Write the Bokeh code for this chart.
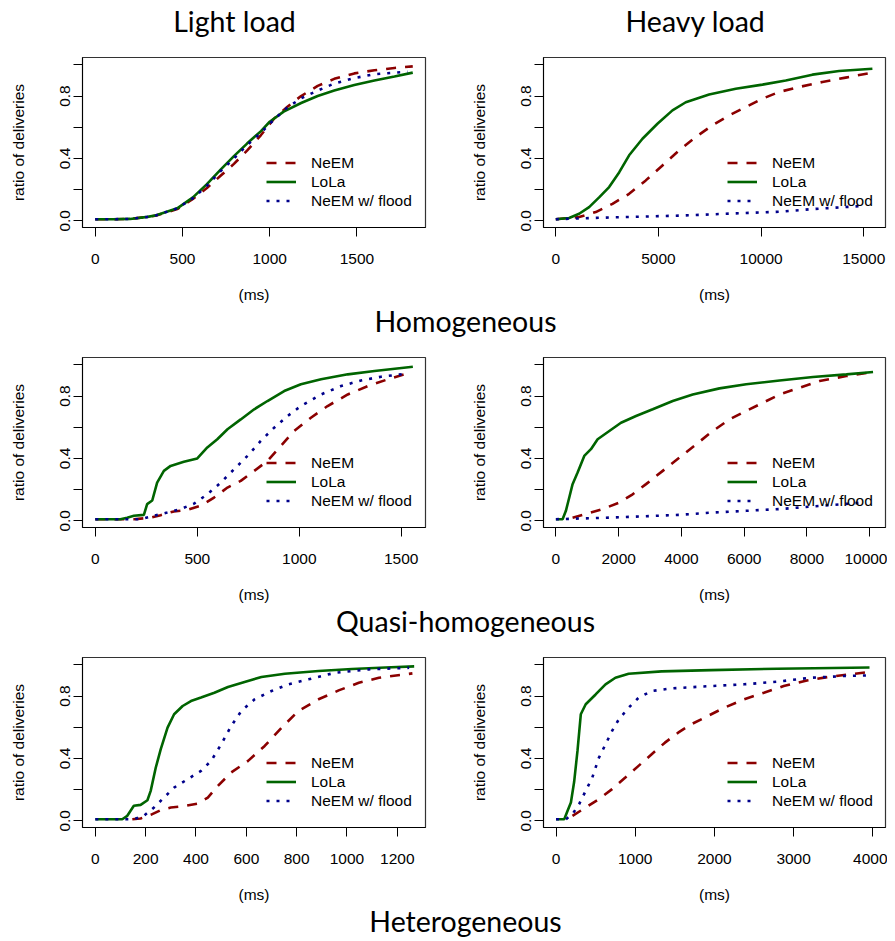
from bokeh.plotting import figure
from bokeh.layouts import column, row
from bokeh.models import (Range1d, FixedTicker, Legend, LegendItem, Label,
                          PrintfTickFormatter)
from bokeh.embed import file_html
from bokeh.resources import INLINE

# ---------------- data ----------------
# Panel A: Light load / Homogeneous
a_neem_x = [0, 100, 200, 300, 350, 470, 560, 640, 720, 795, 870, 950, 1025, 1100, 1180, 1275, 1370, 1485, 1600, 1715, 1820]
a_neem_y = [0.01, 0.01, 0.012, 0.025, 0.034, 0.075, 0.14, 0.21, 0.29, 0.365, 0.45, 0.55, 0.655, 0.73, 0.80, 0.865, 0.91, 0.945, 0.965, 0.98, 0.99]
a_lola_x = [0, 100, 200, 300, 350, 470, 560, 640, 720, 795, 870, 950, 1000, 1080, 1180, 1275, 1370, 1485, 1600, 1715, 1820]
a_lola_y = [0.01, 0.01, 0.012, 0.025, 0.035, 0.08, 0.15, 0.235, 0.33, 0.415, 0.495, 0.575, 0.635, 0.70, 0.755, 0.80, 0.835, 0.87, 0.90, 0.925, 0.95]
a_flood_x = [0, 100, 200, 300, 350, 470, 560, 640, 720, 795, 870, 950, 1025, 1100, 1180, 1275, 1370, 1485, 1600, 1715, 1790]
a_flood_y = [0.01, 0.01, 0.012, 0.025, 0.035, 0.08, 0.145, 0.225, 0.32, 0.40, 0.485, 0.565, 0.65, 0.725, 0.785, 0.835, 0.88, 0.915, 0.94, 0.95, 0.955]

# Panel B: Heavy load / Homogeneous
b_neem_x = [0, 1136, 1948, 2760, 3571, 4383, 5195, 6006, 6818, 7630, 8442, 9253, 10065, 10877, 11851, 12987, 14123, 15422]
b_neem_y = [0.01, 0.024, 0.056, 0.109, 0.173, 0.259, 0.355, 0.451, 0.537, 0.612, 0.676, 0.729, 0.783, 0.826, 0.858, 0.89, 0.918, 0.95]
b_lola_x = [0, 649, 1136, 1623, 2110, 2597, 3084, 3571, 4221, 4951, 5682, 6331, 7468, 8766, 10065, 11201, 12500, 13799, 15422]
b_lola_y = [0.01, 0.018, 0.045, 0.088, 0.15, 0.216, 0.31, 0.42, 0.526, 0.622, 0.708, 0.76, 0.81, 0.847, 0.873, 0.90, 0.937, 0.96, 0.975]
b_flood_x = [0, 2760, 6006, 9253, 10877, 12500, 14935]
b_flood_y = [0.01, 0.022, 0.033, 0.05, 0.058, 0.075, 0.095]

# Panel C: Light load / Quasi-homogeneous
c_neem_x = [0, 123, 189, 270, 320, 385, 451, 516, 582, 648, 713, 779, 844, 910, 975, 1057, 1139, 1238, 1336, 1434, 1516]
c_neem_y = [0.01, 0.01, 0.01, 0.02, 0.036, 0.06, 0.07, 0.096, 0.149, 0.213, 0.256, 0.32, 0.384, 0.48, 0.576, 0.661, 0.736, 0.81, 0.864, 0.907, 0.939]
c_lola_x = [0, 123, 156, 189, 238, 254, 279, 303, 336, 369, 434, 500, 549, 598, 648, 713, 779, 844, 926, 1008, 1107, 1238, 1369, 1557]
c_lola_y = [0.01, 0.01, 0.02, 0.032, 0.038, 0.107, 0.13, 0.245, 0.32, 0.352, 0.378, 0.40, 0.47, 0.523, 0.587, 0.65, 0.715, 0.768, 0.832, 0.875, 0.907, 0.939, 0.96, 0.988]
c_flood_x = [0, 221, 287, 352, 418, 484, 549, 615, 680, 746, 811, 877, 943, 1008, 1107, 1205, 1303, 1402, 1525]
c_flood_y = [0.01, 0.01, 0.032, 0.053, 0.075, 0.11, 0.17, 0.245, 0.33, 0.416, 0.512, 0.597, 0.672, 0.736, 0.81, 0.864, 0.90, 0.924, 0.943]

# Panel D: Heavy load / Quasi-homogeneous
d_neem_x = [532, 958, 1490, 2022, 2447, 2873, 3405, 3937, 4469, 5001, 5533, 6065, 6597, 7129, 7767, 8405, 9257, 10108]
d_neem_y = [0.02, 0.043, 0.075, 0.117, 0.17, 0.235, 0.32, 0.405, 0.49, 0.576, 0.65, 0.704, 0.757, 0.81, 0.853, 0.896, 0.928, 0.954]
d_lola_x = [0, 213, 319, 426, 532, 692, 904, 1117, 1330, 1702, 2075, 2554, 3086, 3724, 4362, 5214, 6065, 7129, 8193, 9257, 10108]
d_lola_y = [0.01, 0.01, 0.064, 0.149, 0.235, 0.31, 0.416, 0.459, 0.523, 0.576, 0.629, 0.672, 0.715, 0.768, 0.81, 0.849, 0.875, 0.90, 0.922, 0.939, 0.954]
d_flood_x = [0, 1809, 3937, 5001, 6065, 7129, 8193, 9789]
d_flood_y = [0.01, 0.021, 0.038, 0.053, 0.064, 0.075, 0.092, 0.117]

# Panel E: Light load / Heterogeneous
e_neem_x = [147, 180, 220, 260, 300, 353, 407, 447, 487, 540, 607, 673, 740, 807, 887, 967, 1047, 1127, 1260]
e_neem_y = [0.01, 0.015, 0.038, 0.068, 0.085, 0.094, 0.11, 0.149, 0.224, 0.31, 0.384, 0.48, 0.597, 0.704, 0.779, 0.836, 0.885, 0.917, 0.945]
e_lola_x = [0, 107, 127, 153, 180, 207, 220, 240, 260, 287, 313, 347, 380, 420, 473, 527, 593, 660, 753, 887, 1020, 1153, 1267]
e_lola_y = [0.01, 0.01, 0.032, 0.096, 0.102, 0.132, 0.192, 0.34, 0.459, 0.597, 0.683, 0.736, 0.768, 0.79, 0.821, 0.858, 0.89, 0.922, 0.943, 0.96, 0.973, 0.983, 0.99]
e_flood_x = [0, 153, 193, 233, 273, 313, 367, 420, 460, 500, 540, 580, 633, 700, 767, 847, 953, 1087, 1247]
e_flood_y = [0.01, 0.01, 0.032, 0.085, 0.149, 0.213, 0.267, 0.32, 0.384, 0.49, 0.608, 0.704, 0.779, 0.832, 0.875, 0.907, 0.949, 0.971, 0.981]

# Panel F: Heavy load / Heterogeneous
f_neem_x = [208, 375, 542, 708, 875, 1042, 1208, 1375, 1542, 1708, 1917, 2125, 2375, 2625, 2875, 3167, 3458, 3958]
f_neem_y = [0.032, 0.085, 0.139, 0.203, 0.277, 0.352, 0.427, 0.501, 0.565, 0.619, 0.672, 0.725, 0.779, 0.821, 0.864, 0.90, 0.924, 0.954]
f_lola_x = [0, 104, 146, 188, 229, 271, 313, 375, 500, 625, 750, 917, 1333, 1958, 2792, 3958]
f_lola_y = [0.01, 0.01, 0.064, 0.117, 0.25, 0.448, 0.683, 0.747, 0.81, 0.875, 0.917, 0.943, 0.958, 0.966, 0.975, 0.983]
f_flood_x = [0, 125, 208, 292, 375, 458, 542, 625, 708, 792, 917, 1042, 1208, 1458, 1958, 2375, 2792, 3208, 3625, 3917]
f_flood_y = [0.01, 0.01, 0.043, 0.107, 0.192, 0.277, 0.405, 0.49, 0.576, 0.65, 0.725, 0.789, 0.832, 0.849, 0.864, 0.875, 0.892, 0.917, 0.928, 0.932]

x_ranges = {"A": (-73, 1893), "B": (-600, 16060), "C": (-63, 1619),
            "D": (-395, 10505), "E": (-51, 1312), "F": (-158, 4160)}
x_ticks = {"A": [0, 500, 1000, 1500], "B": [0, 5000, 10000, 15000],
           "C": [0, 500, 1000, 1500], "D": [0, 2000, 4000, 6000, 8000, 10000],
           "E": [0, 200, 400, 600, 800, 1000, 1200], "F": [0, 1000, 2000, 3000, 4000]}
y_ticks = [0.0, 0.2, 0.4, 0.6, 0.8, 1.0]
y_tick_labels = {0.2: "", 0.6: "", 1.0: ""}

col_titles = ["Light load", "Heavy load"]
row_titles = ["Homogeneous", "Quasi-homogeneous", "Heterogeneous"]
series_names = ["NeEM", "LoLa", "NeEM w/ flood"]

panels = {
    "A": (a_neem_x, a_neem_y, a_lola_x, a_lola_y, a_flood_x, a_flood_y),
    "B": (b_neem_x, b_neem_y, b_lola_x, b_lola_y, b_flood_x, b_flood_y),
    "C": (c_neem_x, c_neem_y, c_lola_x, c_lola_y, c_flood_x, c_flood_y),
    "D": (d_neem_x, d_neem_y, d_lola_x, d_lola_y, d_flood_x, d_flood_y),
    "E": (e_neem_x, e_neem_y, e_lola_x, e_lola_y, e_flood_x, e_flood_y),
    "F": (f_neem_x, f_neem_y, f_lola_x, f_lola_y, f_flood_x, f_flood_y),
}

AX_FONT = "Liberation Sans"
TITLE_FONT = "Lato"
FS = "15.5px"
RED, GREEN, BLUE = "#8B0000", "#006400", "#00008B"
LW = 2.6

FRAME_H = 170
TOTAL_W = 887


def make_panel(key, left_col, top_border):
    nx, ny, lx, ly, fx, fy = panels[key]
    if left_col:
        w, bl, br = 447, 82, 22
    else:
        w, bl, br = 440, 96, 2
    p = figure(width=w, height=top_border + FRAME_H + 78,
               output_backend="svg", toolbar_location=None,
               x_range=Range1d(*x_ranges[key]), y_range=Range1d(-0.043, 1.047),
               min_border_left=bl, min_border_right=br,
               min_border_top=top_border, min_border_bottom=78)
    p.grid.visible = False
    p.outline_line_color = "#333333"
    p.outline_line_width = 1.2
    p.background_fill_color = "white"
    p.border_fill_color = "white"

    r1 = p.line(nx, ny, line_color=RED, line_width=LW, line_dash="10 9")
    r2 = p.line(lx, ly, line_color=GREEN, line_width=LW)
    r3 = p.line(fx, fy, line_color=BLUE, line_width=LW, line_dash="3 7")

    xa = p.xaxis[0]
    xa.ticker = FixedTicker(ticks=x_ticks[key])
    xa.axis_label = "(ms)"
    ya = p.yaxis[0]
    ya.ticker = FixedTicker(ticks=y_ticks)
    ya.formatter = PrintfTickFormatter(format="%.1f")
    ya.major_label_overrides = y_tick_labels
    ya.major_label_orientation = "vertical"
    ya.axis_label = "ratio of deliveries"
    for ax in (xa, ya):
        ax.major_tick_out = 9
        ax.major_tick_in = 0
        ax.minor_tick_out = 0
        ax.minor_tick_in = 0
        ax.axis_line_color = "black"
        ax.major_tick_line_color = "black"
        ax.major_label_text_font = AX_FONT
        ax.major_label_text_font_size = FS
        ax.major_label_text_color = "black"
        ax.axis_label_text_font = AX_FONT
        ax.axis_label_text_font_size = FS
        ax.axis_label_text_font_style = "normal"
        ax.axis_label_text_color = "black"
    xa.major_label_standoff = 17
    xa.axis_label_standoff = 19
    ya.major_label_standoff = 3
    ya.axis_label_standoff = 31

    leg = Legend(items=[LegendItem(label=series_names[0], renderers=[r1]),
                        LegendItem(label=series_names[1], renderers=[r2]),
                        LegendItem(label=series_names[2], renderers=[r3])],
                 location=(184, 17), glyph_width=30, glyph_height=19,
                 label_height=19, label_standoff=15, spacing=0, padding=0,
                 margin=0, background_fill_alpha=0, border_line_alpha=0,
                 label_text_font=AX_FONT, label_text_font_size=FS,
                 label_text_color="black")
    p.add_layout(leg)
    return p


def text_band(h, texts):
    p = figure(width=TOTAL_W, height=h, output_backend="svg", toolbar_location=None,
               x_range=Range1d(0, TOTAL_W), y_range=Range1d(0, h),
               min_border=0)
    p.axis.visible = False
    p.grid.visible = False
    p.outline_line_color = None
    for txt, x, y in texts:
        p.add_layout(Label(x=x, y=y, x_units="screen", y_units="screen",
                           text=txt, text_align="center",
                           text_baseline="alphabetic", text_font=TITLE_FONT,
                           text_font_size="28.5px", text_color="black"))
    return p


header = text_band(48, [(col_titles[0], 234, 28), (col_titles[1], 695, 28)])
t1 = text_band(40, [(row_titles[0], 465, 25)])
t2 = text_band(40, [(row_titles[1], 465, 25)])
t3 = text_band(36, [(row_titles[2], 465, 21)])

pa = make_panel("A", True, 9)
pb = make_panel("B", False, 9)
pc = make_panel("C", True, 12)
pd_ = make_panel("D", False, 12)
pe = make_panel("E", True, 12)
pf = make_panel("F", False, 12)

layout = column(header, row(pa, pb), t1, row(pc, pd_), t2, row(pe, pf), t3)

open("out.html", "w").write(file_html(layout, INLINE))
